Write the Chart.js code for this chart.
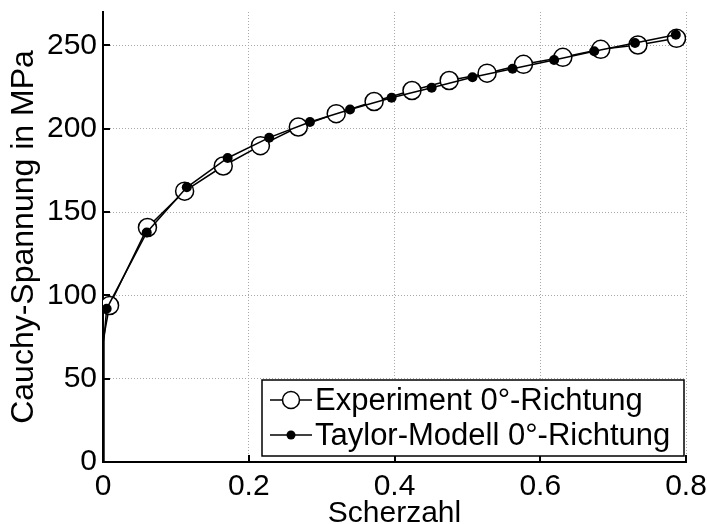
<!DOCTYPE html>
<html>
<head>
<meta charset="utf-8">
<script src="https://cdn.jsdelivr.net/npm/chart.js@4/dist/chart.umd.min.js"></script>
<style>
  html, body { margin: 0; padding: 0; background: #fff; }
  canvas { display: block; }
</style>
</head>
<body>
<canvas id="c" width="707" height="524"></canvas>
<script>
// Experiment 0°-Richtung (offene Kreise)
const expX = [0, 0.001, 0.009, 0.061, 0.112, 0.165, 0.216, 0.268, 0.320, 0.372, 0.424, 0.475, 0.527, 0.577, 0.631, 0.683, 0.734, 0.787];
const expY = [0, 75, 93.9, 140.7, 162.5, 177.6, 189.8, 201, 209, 216.3, 222.9, 228.9, 233.3, 238.6, 242.8, 247.6, 250.2, 254.2];
// Taylor-Modell 0°-Richtung (gefüllte Punkte)
const tayX = [0, 0.001, 0.005, 0.060, 0.115, 0.171, 0.228, 0.284, 0.339, 0.396, 0.451, 0.507, 0.562, 0.619, 0.674, 0.730, 0.786];
const tayY = [0, 72, 91.9, 137.7, 164.8, 182.4, 194.6, 204, 211.5, 218.5, 224.6, 230.9, 236, 241.2, 246.4, 251.4, 256.4];
// Achsen
const xTicks = [0, 0.2, 0.4, 0.6, 0.8];
const yTicks = [0, 50, 100, 150, 200, 250];
const legendLabels = ['Experiment 0°-Richtung', 'Taylor-Modell 0°-Richtung'];

const FONT = 'Liberation Sans, Arial, sans-serif';

function toPoints(xs, ys) {
  return xs.map((x, i) => ({ x: x, y: ys[i] }));
}
// Nur die ersten Stützpunkte (Anstieg bei 0) ohne Marker
function radii(xs, r) {
  return xs.map((_, i) => (i < 2 ? 0 : r));
}

// Ticks nach innen zeichnen
const innerTicks = {
  id: 'innerTicks',
  afterDatasetsDraw(chart) {
    const ctx = chart.ctx, a = chart.chartArea;
    const xs = chart.scales.x, ys = chart.scales.y;
    ctx.save();
    ctx.strokeStyle = '#000';
    ctx.lineWidth = 2;
    ctx.beginPath();
    xTicks.forEach(v => {
      const px = Math.round(xs.getPixelForValue(v));
      ctx.moveTo(px, a.bottom);
      ctx.lineTo(px, a.bottom - 7);
    });
    yTicks.forEach(v => {
      const py = Math.round(ys.getPixelForValue(v));
      ctx.moveTo(a.left, py);
      ctx.lineTo(a.left + 7, py);
    });
    ctx.stroke();
    ctx.restore();
  }
};

// Legende unten rechts im Diagramm
const boxLegend = {
  id: 'boxLegend',
  afterDraw(chart) {
    const ctx = chart.ctx;
    const x0 = 262, y0 = 380, w = 422, h = 76;
    ctx.save();
    ctx.fillStyle = '#fff';
    ctx.fillRect(x0, y0, w, h);
    ctx.strokeStyle = '#000';
    ctx.lineWidth = 1.5;
    ctx.strokeRect(x0, y0, w, h);
    ctx.font = '31px ' + FONT;
    ctx.textBaseline = 'middle';
    ctx.fillStyle = '#000';
    const rows = [y0 + 20, y0 + 55];
    rows.forEach((ry, i) => {
      ctx.beginPath();
      ctx.lineWidth = 1.5;
      ctx.moveTo(x0 + 8, ry);
      ctx.lineTo(x0 + 50, ry);
      ctx.stroke();
      ctx.beginPath();
      if (i === 0) {
        ctx.arc(x0 + 29, ry, 8.5, 0, Math.PI * 2);
        ctx.fillStyle = '#fff';
        ctx.fill();
        ctx.stroke();
      } else {
        ctx.arc(x0 + 29, ry, 4.5, 0, Math.PI * 2);
        ctx.fillStyle = '#000';
        ctx.fill();
      }
      ctx.fillStyle = '#000';
      ctx.fillText(legendLabels[i], x0 + 53, ry + 1);
    });
    ctx.restore();
  }
};

new Chart(document.getElementById('c'), {
  type: 'line',
  data: {
    datasets: [
      {
        label: legendLabels[0],
        data: toPoints(expX, expY),
        order: 1,
        borderColor: '#000',
        borderWidth: 1.5,
        tension: 0,
        pointRadius: radii(expX, 9),
        pointBackgroundColor: '#fff',
        pointBorderColor: '#000',
        pointBorderWidth: 1.5,
        fill: false
      },
      {
        label: legendLabels[1],
        data: toPoints(tayX, tayY),
        order: 0,
        borderColor: '#000',
        borderWidth: 1.5,
        tension: 0,
        pointRadius: radii(tayX, 5),
        pointBackgroundColor: '#000',
        pointBorderColor: '#000',
        pointBorderWidth: 0,
        fill: false
      }
    ]
  },
  options: {
    responsive: false,
    animation: false,
    devicePixelRatio: 1,
    layout: { padding: { top: 12, right: 21, left: 0, bottom: 0 } },
    plugins: {
      legend: { display: false },
      tooltip: { enabled: false }
    },
    scales: {
      x: {
        type: 'linear',
        min: 0,
        max: 0.8,
        afterBuildTicks: s => { s.ticks = xTicks.map(v => ({ value: v })); },
        afterFit: s => { s.height = 62; s.paddingLeft = 0; s.paddingRight = 0; },
        ticks: {
          color: '#000',
          font: { family: FONT, size: 30 },
          padding: 7,
          maxRotation: 0,
          callback: v => String(v)
        },
        grid: { color: '#a8a8a8', lineWidth: 1, drawTicks: false },
        border: { color: '#000', width: 2, dash: [1, 2] },
        title: {
          display: true,
          text: 'Scherzahl',
          color: '#000',
          font: { family: FONT, size: 30 },
          padding: { top: 0, bottom: -8 }
        }
      },
      y: {
        type: 'linear',
        min: 0,
        max: 270,
        afterBuildTicks: s => { s.ticks = yTicks.map(v => ({ value: v })); },
        afterFit: s => { s.width = 103; s.paddingTop = 0; s.paddingBottom = 0; },
        ticks: {
          color: '#000',
          font: { family: FONT, size: 30 },
          padding: 6
        },
        grid: { color: '#a8a8a8', lineWidth: 1, drawTicks: false },
        border: { color: '#000', width: 2, dash: [1, 2] },
        title: {
          display: true,
          text: 'Cauchy-Spannung in MPa',
          color: '#000',
          font: { family: FONT, size: 32 },
          padding: { top: 5, bottom: 0 }
        }
      }
    }
  },
  plugins: [innerTicks, boxLegend]
});
</script>
</body>
</html>
